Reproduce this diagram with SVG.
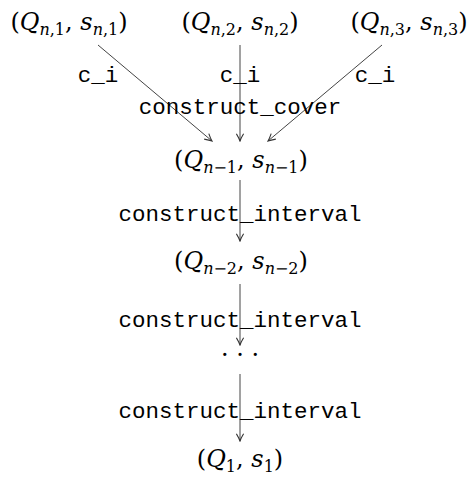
<svg xmlns="http://www.w3.org/2000/svg" width="473" height="477" viewBox="0 0 473 477">
<defs>
<style>
.m{font-family:"DejaVu Serif","Liberation Serif",serif;font-size:24px;fill:#000}
.i{font-style:italic}
.s{font-size:16px}
.t{font-family:"Liberation Mono","DejaVu Sans Mono",monospace;font-size:22.5px;fill:#000}
.e{stroke:#444;stroke-width:1;fill:none;marker-end:url(#ah)}
</style>
<marker id="ah" viewBox="0 0 10 10" refX="9" refY="5" markerWidth="9" markerHeight="9" markerUnits="userSpaceOnUse" orient="auto">
<path d="M1,1 Q6,4 9,5 Q6,6 1,9" fill="none" stroke="#333" stroke-width="1.2"/>
</marker>
</defs>
<rect width="473" height="477" fill="#fff"/>
<g id="connectors">
<line class="e" x1="98" y1="45" x2="212" y2="141"/>
<line class="e" x1="240" y1="45" x2="240" y2="141"/>
<line class="e" x1="382" y1="45" x2="268" y2="141"/>
<line class="e" x1="240" y1="180" x2="240" y2="241"/>
<line class="e" x1="240" y1="284" x2="240" y2="345"/>
<line class="e" x1="240" y1="374" x2="240" y2="441"/>
</g>
<g id="labels">
<text class="t" x="98" y="82" text-anchor="middle">c_i</text>
<text class="t" x="240" y="82" text-anchor="middle">c_i</text>
<text class="t" x="375" y="82" text-anchor="middle">c_i</text>
<text class="t" x="240" y="114" text-anchor="middle">construct_cover</text>
<text class="t" x="240" y="221" text-anchor="middle">construct_interval</text>
<text class="t" x="240" y="327" text-anchor="middle">construct_interval</text>
<text class="t" x="240" y="418" text-anchor="middle">construct_interval</text>
</g>
<g id="n1"><text class="m" x="69" y="30" text-anchor="middle">(<tspan class="i">Q</tspan><tspan class="s" dy="5"><tspan class="i">n</tspan>,1</tspan><tspan dy="-5">, </tspan><tspan class="i">s</tspan><tspan class="s" dy="5"><tspan class="i">n</tspan>,1</tspan><tspan dy="-5">)</tspan></text></g>
<g id="n2"><text class="m" x="240" y="30" text-anchor="middle">(<tspan class="i">Q</tspan><tspan class="s" dy="5"><tspan class="i">n</tspan>,2</tspan><tspan dy="-5">, </tspan><tspan class="i">s</tspan><tspan class="s" dy="5"><tspan class="i">n</tspan>,2</tspan><tspan dy="-5">)</tspan></text></g>
<g id="n3"><text class="m" x="409" y="30" text-anchor="middle">(<tspan class="i">Q</tspan><tspan class="s" dy="5"><tspan class="i">n</tspan>,3</tspan><tspan dy="-5">, </tspan><tspan class="i">s</tspan><tspan class="s" dy="5"><tspan class="i">n</tspan>,3</tspan><tspan dy="-5">)</tspan></text></g>
<g id="n4"><text class="m" x="241" y="168" text-anchor="middle">(<tspan class="i">Q</tspan><tspan class="s" dy="5"><tspan class="i">n</tspan>−1</tspan><tspan dy="-5">, </tspan><tspan class="i">s</tspan><tspan class="s" dy="5"><tspan class="i">n</tspan>−1</tspan><tspan dy="-5">)</tspan></text></g>
<g id="n5"><text class="m" x="241" y="269" text-anchor="middle">(<tspan class="i">Q</tspan><tspan class="s" dy="5"><tspan class="i">n</tspan>−2</tspan><tspan dy="-5">, </tspan><tspan class="i">s</tspan><tspan class="s" dy="5"><tspan class="i">n</tspan>−2</tspan><tspan dy="-5">)</tspan></text></g>
<g id="n6"><text class="m" x="240" y="363" text-anchor="middle">· · ·</text></g>
<g id="n7"><text class="m" x="240" y="467" text-anchor="middle">(<tspan class="i">Q</tspan><tspan class="s" dy="5">1</tspan><tspan dy="-5">, </tspan><tspan class="i">s</tspan><tspan class="s" dy="5">1</tspan><tspan dy="-5">)</tspan></text></g>
</svg>
